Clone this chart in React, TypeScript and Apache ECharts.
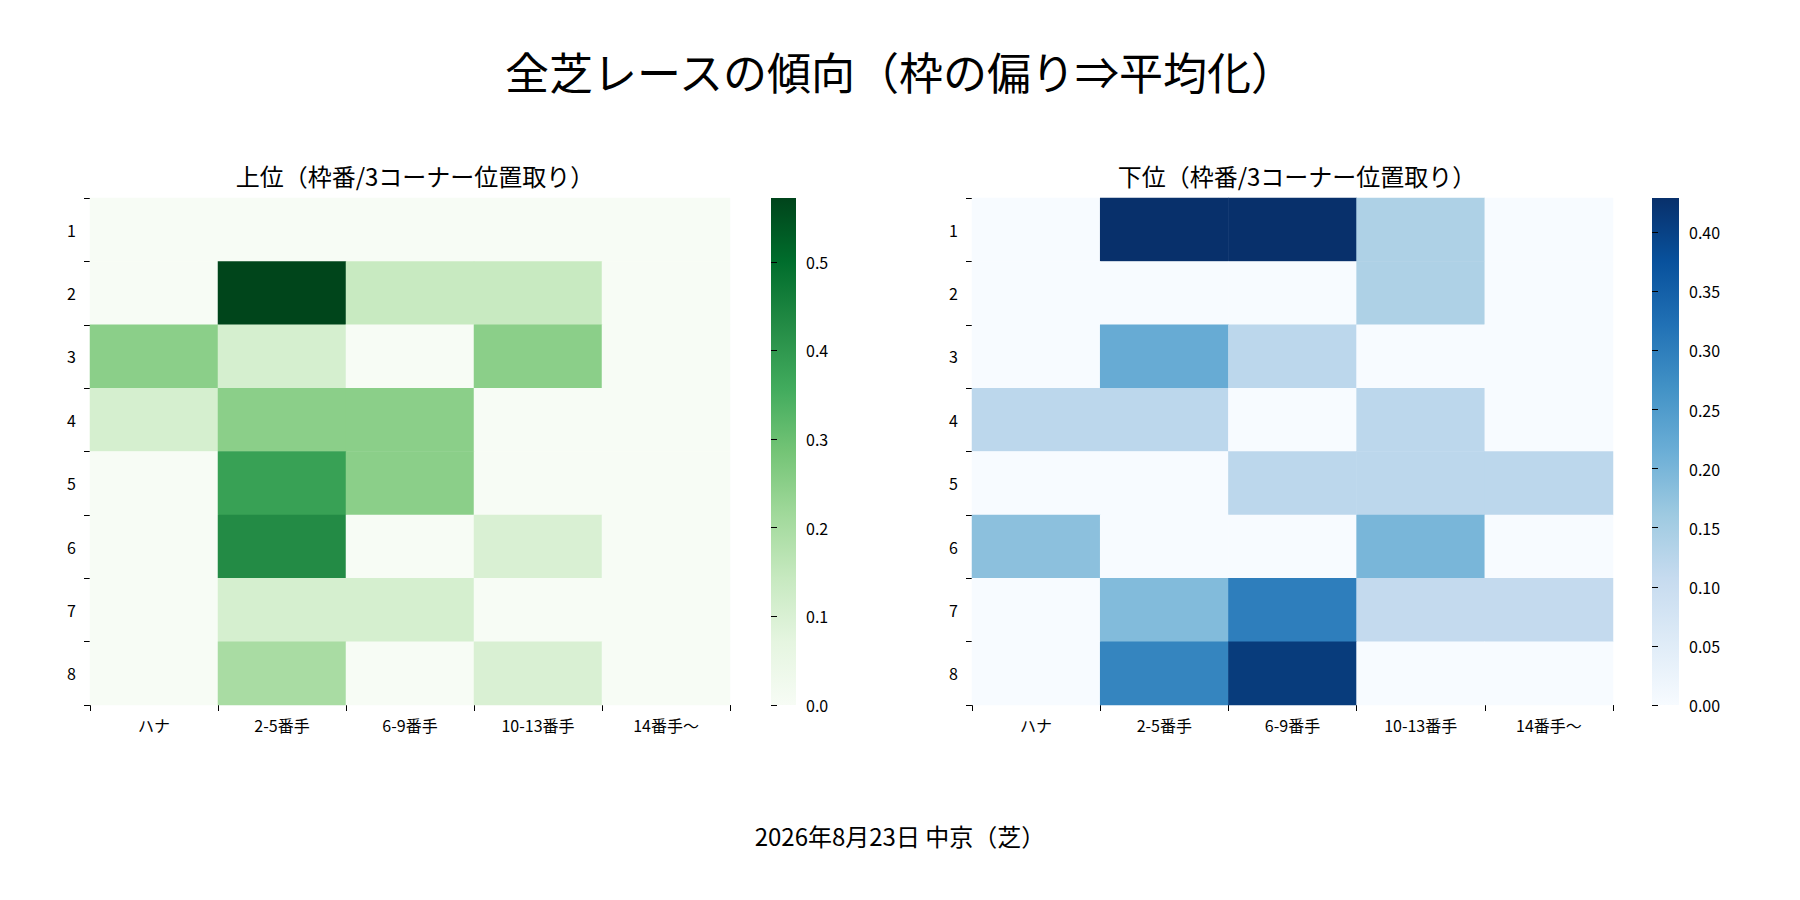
import React, { useEffect, useRef } from "react";
import * as echarts from "echarts";

const cols = ["ハナ", "2-5番手", "6-9番手", "10-13番手", "14番手〜"];
const rows = ["1", "2", "3", "4", "5", "6", "7", "8"];
const upper = [
  [0, 0, 0, 0, 0],
  [0, 0.57, 0.14, 0.14, 0],
  [0.25, 0.11, 0, 0.25, 0],
  [0.11, 0.25, 0.25, 0, 0],
  [0, 0.38, 0.25, 0, 0],
  [0, 0.43, 0, 0.1, 0],
  [0, 0.11, 0.11, 0, 0],
  [0, 0.2, 0, 0.1, 0],
];
const lower = [
  [0, 0.43, 0.43, 0.14, 0],
  [0, 0, 0, 0.14, 0],
  [0, 0.22, 0.12, 0, 0],
  [0.12, 0.12, 0, 0.12, 0],
  [0, 0, 0.12, 0.12, 0.12],
  [0.18, 0, 0, 0.2, 0],
  [0, 0.19, 0.3, 0.11, 0.11],
  [0, 0.29, 0.41, 0, 0],
];
const upperMax = 0.572;
const lowerMax = 0.429;
const greens = ["#f7fcf5", "#e5f5e0", "#c7e9c0", "#a1d99b", "#74c476", "#41ab5d", "#238b45", "#006d2c", "#00441b"];
const blues = ["#f7fbff", "#deebf7", "#c6dbef", "#9ecae1", "#6baed6", "#4292c6", "#2171b5", "#08519c", "#08306b"];

const FONT = "Noto Sans CJK JP";

function toData(m: number[][]) {
  const out: number[][] = [];
  m.forEach((r, i) => r.forEach((v, j) => out.push([j, i, v])));
  return out;
}

function grad(cs: string[]) {
  return new echarts.graphic.LinearGradient(0, 1, 0, 0, cs.map((c, i) => ({ offset: i / (cs.length - 1), color: c })));
}

export default function App() {
  const ref = useRef<HTMLDivElement>(null);
  useEffect(() => {
    const chart = echarts.init(ref.current!, null, { renderer: "svg" });
    const T = 198, H = 507;
    const grids = [
      { left: 90, top: T, width: 640, height: H },
      { left: 972, top: T, width: 641, height: H },
      { left: 771, top: T, width: 25, height: H },
      { left: 1652, top: T, width: 27, height: H },
    ];
    const lab = { fontFamily: FONT, fontSize: 16, color: "#000" };
    const catX = (gi: number) => ({
      type: "category", gridIndex: gi, data: cols,
      axisLine: { show: false }, axisTick: { show: true, length: 6, lineStyle: { color: "#000" } },
      axisLabel: { ...lab, margin: 12 }, splitArea: { show: false },
    });
    const catY = (gi: number) => ({
      type: "category", gridIndex: gi, data: rows, inverse: true,
      axisLine: { show: false }, axisTick: { show: true, length: 6, lineStyle: { color: "#000" } },
      axisLabel: { ...lab, margin: 14 },
    });
    const cbY = (gi: number, max: number, interval: number, dec: number) => ({
      type: "value", gridIndex: gi, min: 0, max, interval, position: "right",
      axisLine: { show: false }, splitLine: { show: false },
      axisTick: { show: true, length: 6, inside: false, lineStyle: { color: "#000" } },
      axisLabel: { ...lab, margin: 10, formatter: (v: number) => v.toFixed(dec), showMaxLabel: false },
    });
    chart.setOption({
      animation: false,
      title: [
        { text: "全芝レースの傾向（枠の偏り⇒平均化）", left: "center", top: 44, textStyle: { fontFamily: FONT, fontSize: 44, fontWeight: "normal", color: "#000" } },
        { text: "上位（枠番/3コーナー位置取り）", left: 410, textAlign: "center", top: 158, textStyle: { fontFamily: FONT, fontSize: 24, fontWeight: "normal", color: "#000" } },
        { text: "下位（枠番/3コーナー位置取り）", left: 1292, textAlign: "center", top: 158, textStyle: { fontFamily: FONT, fontSize: 24, fontWeight: "normal", color: "#000" } },
        { text: "2026年8月23日 中京（芝）", left: "center", top: 818, textStyle: { fontFamily: FONT, fontSize: 24, fontWeight: "normal", color: "#000" } },
      ],
      grid: grids,
      xAxis: [catX(0), catX(1), { type: "value", gridIndex: 2, show: false }, { type: "value", gridIndex: 3, show: false }],
      yAxis: [catY(0), catY(1), cbY(2, upperMax, 0.1, 1), cbY(3, lowerMax, 0.05, 2)],
      visualMap: [
        { show: false, seriesIndex: 0, min: 0, max: upperMax, inRange: { color: greens } },
        { show: false, seriesIndex: 1, min: 0, max: lowerMax, inRange: { color: blues } },
      ],
      graphic: [
        { type: "rect", shape: { x: 771, y: T, width: 25, height: H }, style: { fill: grad(greens) }, z: -1 },
        { type: "rect", shape: { x: 1652, y: T, width: 27, height: H }, style: { fill: grad(blues) }, z: -1 },
      ],
      series: [
        { type: "heatmap", xAxisIndex: 0, yAxisIndex: 0, data: toData(upper), itemStyle: { borderWidth: 0 } },
        { type: "heatmap", xAxisIndex: 1, yAxisIndex: 1, data: toData(lower), itemStyle: { borderWidth: 0 } },
      ],
    });
    return () => chart.dispose();
  }, []);
  return <div ref={ref} style={{ position: "absolute", left: 0, top: 0, width: 1800, height: 900 }} />;
}
